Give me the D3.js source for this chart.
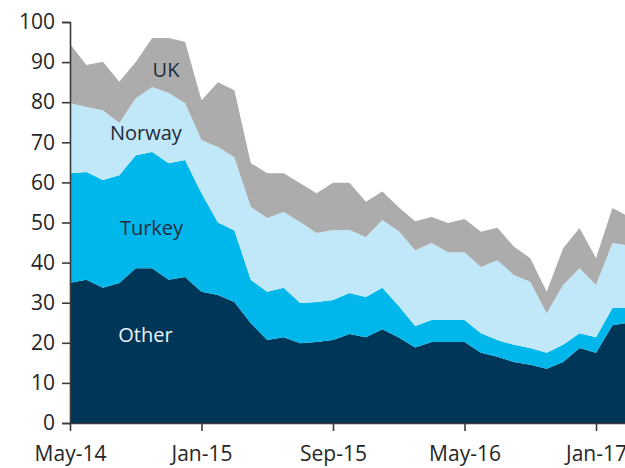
<!DOCTYPE html>
<html>
<head>
<meta charset="utf-8">
<script src="https://cdn.jsdelivr.net/npm/d3@7"></script>
<style>
  body { margin: 0; background: #fff; }
  svg { display: block; font-family: "Open Sans", sans-serif; }
  .axis path, .axis line { stroke: #3a3a3a; stroke-width: 1.6; }
  .axis text { fill: #262626; font-size: 21px; font-family: "Open Sans", sans-serif; }
</style>
</head>
<body>
<svg id="chart" width="625" height="468"></svg>
<script>
// monthly, May-14 .. Mar-17
const months = ["May-14","Jun-14","Jul-14","Aug-14","Sep-14","Oct-14","Nov-14","Dec-14",
  "Jan-15","Feb-15","Mar-15","Apr-15","May-15","Jun-15","Jul-15","Aug-15",
  "Sep-15","Oct-15","Nov-15","Dec-15","Jan-16","Feb-16","Mar-16","Apr-16",
  "May-16","Jun-16","Jul-16","Aug-16","Sep-16","Oct-16","Nov-16","Dec-16",
  "Jan-17","Feb-17","Mar-17"];

const other  = [35, 35.7, 33.7, 34.9, 38.6, 38.6, 35.7, 36.4, 32.7, 31.9, 30.2, 24.9, 20.7, 21.4, 19.9, 20.2,
  20.7, 22.2, 21.4, 23.4, 21.3, 18.8, 20.2, 20.2, 20.2, 17.5, 16.5, 15.2, 14.5, 13.5, 15.2, 18.7, 17.5, 24.4, 25];
const turkey = [27.3, 26.9, 26.9, 26.9, 28.2, 29, 29.1, 29.2, 24.6, 18.1, 17.8, 10.8, 12, 12.3, 10, 10,
  10, 10.2, 10, 10.3, 7.9, 5.4, 5.5, 5.5, 5.5, 4.9, 4.2, 4.3, 4.2, 4, 4.3, 3.7, 3.9, 4.3, 3.7];
const norway = [17.5, 16.2, 17.4, 13, 14.2, 16.2, 17.5, 14.2, 13.3, 18.8, 18.3, 18.2, 18.4, 18.9, 20.2, 17.2,
  17.4, 15.7, 15, 16.9, 18.6, 18.9, 19.2, 16.9, 16.9, 16.5, 19.9, 17.4, 16.5, 9.9, 14.9, 16.2, 13, 16.2, 15.5];
const uk     = [14.7, 10.5, 12.1, 10.3, 9, 12.2, 13.7, 15.3, 9.9, 16.2, 16.7, 10.9, 11.2, 9.7, 9.7, 9.9,
  11.8, 11.8, 8.8, 7.1, 6, 7.2, 6.5, 7.3, 8.3, 8.8, 8.1, 7.1, 5.9, 5.3, 9.2, 10, 6.7, 8.7, 7.2];

const seriesNames = ["Other", "Turkey", "Norway", "UK"];
const seriesColors = ["#003658", "#00b7ec", "#c0e8f8", "#acacac"];
const yTicks = [0, 10, 20, 30, 40, 50, 60, 70, 80, 90, 100];
const xTickLabels = ["May-14", "Jan-15", "Sep-15", "May-16", "Jan-17"];

const svg = d3.select("#chart");
const margin = { top: 22, left: 70 };
const plotBottom = 423;

const x = d3.scaleLinear().domain([0, 32]).range([margin.left, 596]);
const y = d3.scaleLinear().domain([0, 100]).range([plotBottom, margin.top]);

const rows = months.map((m, i) => ({
  i: i, Other: other[i], Turkey: turkey[i], Norway: norway[i], UK: uk[i]
}));

const stacked = d3.stack().keys(seriesNames)(rows);

const area = d3.area()
  .x(d => x(d.data.i))
  .y0(d => y(d[0]))
  .y1(d => y(d[1]));

svg.append("g")
  .selectAll("path")
  .data(stacked)
  .join("path")
  .attr("fill", (d, k) => seriesColors[k])
  .attr("d", area);

// series labels
const labels = [
  { text: "UK", i: 5.84, v: 86.3, color: "#1e2b3b" },
  { text: "Norway", i: 4.62, v: 70.6, color: "#1e2b3b" },
  { text: "Turkey", i: 4.96, v: 46.9, color: "#1e2b3b" },
  { text: "Other", i: 4.59, v: 20.2, color: "#eef3f8" }
];
svg.append("g")
  .selectAll("text")
  .data(labels)
  .join("text")
  .attr("x", d => x(d.i))
  .attr("y", d => y(d.v))
  .attr("text-anchor", "middle")
  .attr("font-size", 20)
  .attr("fill", d => d.color)
  .text(d => d.text);

// axes
svg.append("g")
  .attr("class", "axis")
  .attr("transform", `translate(0,${plotBottom})`)
  .call(d3.axisBottom(x)
    .tickValues([0, 8, 16, 24, 32])
    .tickFormat((d, k) => xTickLabels[k])
    .tickSizeOuter(0)
    .tickSize(8)
    .tickPadding(15))
  .call(g => g.select(".domain").attr("d", `M${margin.left},0.5H625`));

svg.append("g")
  .attr("class", "axis")
  .attr("transform", `translate(${margin.left},0)`)
  .call(d3.axisLeft(y)
    .tickValues(yTicks)
    .tickSizeOuter(0)
    .tickSize(8)
    .tickPadding(7));
</script>
</body>
</html>
